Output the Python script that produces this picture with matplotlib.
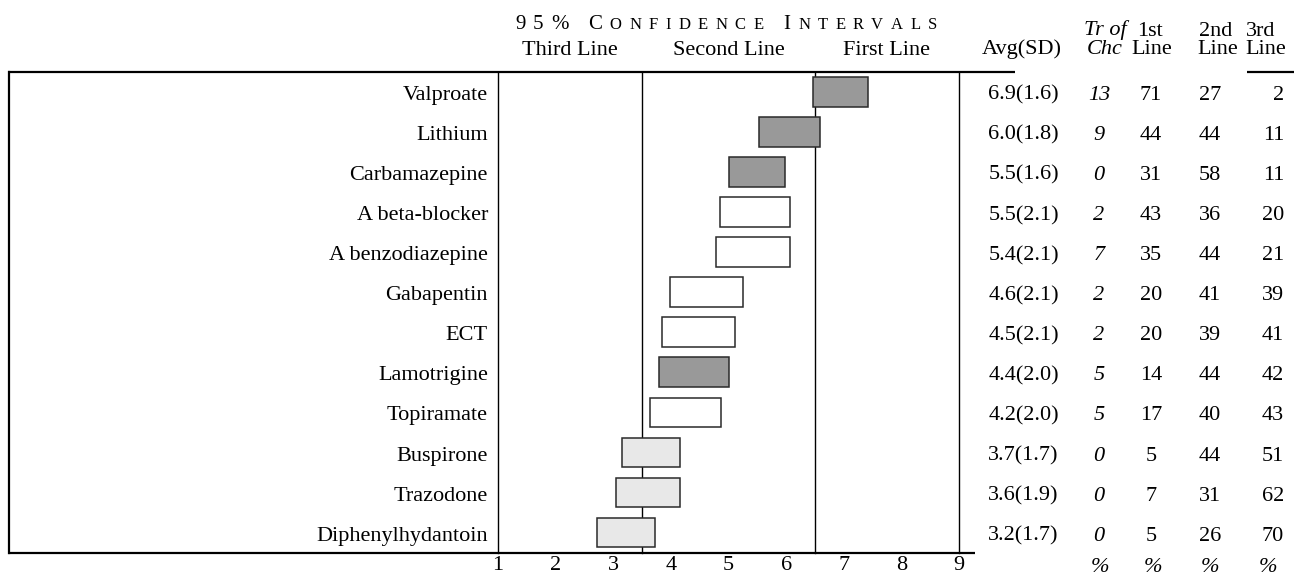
import matplotlib
matplotlib.use("Agg")
import matplotlib.pyplot as plt
from matplotlib.lines import Line2D
from matplotlib.font_manager import FontProperties
from matplotlib.transforms import blended_transform_factory

# ---------------- data ----------------
drugs = ["Valproate", "Lithium", "Carbamazepine", "A beta-blocker",
         "A benzodiazepine", "Gabapentin", "ECT", "Lamotrigine",
         "Topiramate", "Buspirone", "Trazodone", "Diphenylhydantoin"]
ci_low = [6.46, 5.53, 5.01, 4.85, 4.78, 3.98, 3.85, 3.80, 3.63, 3.16, 3.04, 2.71]
ci_high = [7.42, 6.58, 5.98, 6.07, 6.07, 5.25, 5.12, 5.01, 4.87, 4.16, 4.16, 3.73]
shade = ["dark", "dark", "dark", "white", "white", "white", "white", "dark",
         "white", "light", "light", "light"]
avg = [6.9, 6.0, 5.5, 5.5, 5.4, 4.6, 4.5, 4.4, 4.2, 3.7, 3.6, 3.2]
sd = [1.6, 1.8, 1.6, 2.1, 2.1, 2.1, 2.1, 2.0, 2.0, 1.7, 1.9, 1.7]
tr_of_chc = [13, 9, 0, 2, 7, 2, 2, 5, 5, 0, 0, 0]
first_line = [71, 44, 31, 43, 35, 20, 20, 14, 17, 5, 7, 5]
second_line = [27, 44, 58, 36, 44, 41, 39, 44, 40, 44, 31, 26]
third_line = [2, 11, 11, 20, 21, 39, 41, 42, 43, 51, 62, 70]
x_ticks = [1, 2, 3, 4, 5, 6, 7, 8, 9]
zone_bounds = [3.5, 6.5]
zone_labels = ["Third Line", "Second Line", "First Line"]

shade_colors = {"dark": "#999999", "white": "#ffffff", "light": "#e8e8e8"}

# ---------------- figure ----------------
W, H = 1294, 575
plt.rcParams["font.family"] = ["Liberation Serif", "DejaVu Serif"]
fig = plt.figure(figsize=(W / 100, H / 100), dpi=100)

def fx(px):
    return px / W

def fy(py):
    return 1 - py / H

X0, X1 = 498, 959        # pixel positions of value 1 and 9
Y0, Y1 = 71.7, 552.7     # top and bottom rules
ax = fig.add_axes([fx(X0), fy(Y1), (X1 - X0) / W, (Y1 - Y0) / H])
ax.set_xlim(1, 9)
ax.set_ylim(11.5, -0.5)
for s in ax.spines.values():
    s.set_visible(False)
ax.set_yticks([])
ax.set_xticks(x_ticks)

FS = 16
ax.tick_params(axis="x", length=0, pad=2.5, labelsize=FS)

# boxes
ypos = list(range(len(drugs)))
ax.barh(ypos, [h - l for l, h in zip(ci_low, ci_high)], left=ci_low,
        height=0.74, color=[shade_colors[s] for s in shade],
        edgecolor="#2a2a2a", linewidth=1.1, zorder=3)

# vertical lines
for v in [x_ticks[0]] + zone_bounds + [x_ticks[-1]]:
    ax.axvline(v, color="black", lw=1.0, zorder=1, clip_on=False)

# frame rules (figure coordinates)
def hline(x0, x1, y, lw=1.6):
    fig.add_artist(Line2D([fx(x0), fx(x1)], [fy(y), fy(y)], color="black",
                          lw=lw, transform=fig.transFigure,
                          solid_capstyle="butt"))

hline(7.5, 1015, Y0)
hline(1247, W + 2, Y0)
hline(7.5, 975, Y1)
fig.add_artist(Line2D([fx(8.5), fx(8.5)], [fy(Y0), fy(Y1)], color="black",
                      lw=1.6, transform=fig.transFigure))

trans = blended_transform_factory(ax.transAxes, ax.transData)

def axx(px):
    return (px - X0) / (X1 - X0)

BASE = 0.2
for i, name in enumerate(drugs):
    yb = i + BASE
    ax.text(axx(488), yb, name, transform=trans, ha="right", va="baseline",
            fontsize=FS, clip_on=False)
    ax.text(axx(1023.5), yb, f"{avg[i]:.1f}({sd[i]:.1f})", transform=trans,
            ha="center", va="baseline", fontsize=FS, clip_on=False)
    ax.text(axx(1099), yb, f"{tr_of_chc[i]}", transform=trans, ha="center",
            va="baseline", fontsize=FS, style="italic", clip_on=False)
    ax.text(axx(1151), yb, f"{first_line[i]}", transform=trans, ha="center",
            va="baseline", fontsize=FS, clip_on=False)
    ax.text(axx(1210), yb, f"{second_line[i]}", transform=trans, ha="center",
            va="baseline", fontsize=FS, clip_on=False)
    ax.text(axx(1284), yb, f"{third_line[i]}", transform=trans, ha="right",
            va="baseline", fontsize=FS, clip_on=False)

# header texts (figure pixel coords)
def ftext(px, py, s, ha="center", style="normal", size=FS):
    fig.text(fx(px), fy(py), s, ha=ha, va="baseline", fontsize=size,
             style=style)

for cx, lab in zip([570, 729, 886.5], zone_labels):
    ftext(cx, 55, lab)
ftext(1021.5, 54, "Avg(SD)")
ftext(1105, 35.5, "Tr of", style="italic")
ftext(1105, 54, "Chc", style="italic")
ftext(1150, 35.5, "1st")
ftext(1152, 54, "Line")
ftext(1216, 35.5, "2nd")
ftext(1218, 54, "Line")
ftext(1261, 35.5, "3rd")
ftext(1245, 54, "Line", ha="left")

# percent signs below table columns
for cx in [1100, 1153, 1210, 1268]:
    ftext(cx, 572, "%", style="italic")

# small-caps, letter-spaced title
renderer = fig.canvas.get_renderer()
big, small = 15, 12
pieces = ([(c, big) for c in "95%"] + [(" ", big)] + [("C", big)] +
          [(c, small) for c in "ONFIDENCE"] + [(" ", big)] + [("I", big)] +
          [(c, small) for c in "NTERVALS"])
widths = []
for c, sz in pieces:
    fp = FontProperties(family="Liberation Serif", size=sz)
    w, h, d = renderer.get_text_width_height_descent(c if c != " " else "n", fp, ismath=False)
    if c == " ":
        w *= 0.5
    widths.append(w)
start, end = 515, 937
extra = (end - start - sum(widths)) / (len(pieces) - 1)
x = start
for (c, sz), w in zip(pieces, widths):
    if c != " ":
        fig.text(fx(x), fy(29.3), c, ha="left", va="baseline", fontsize=sz)
    x += w + extra

fig.savefig("out.png", dpi=100)
